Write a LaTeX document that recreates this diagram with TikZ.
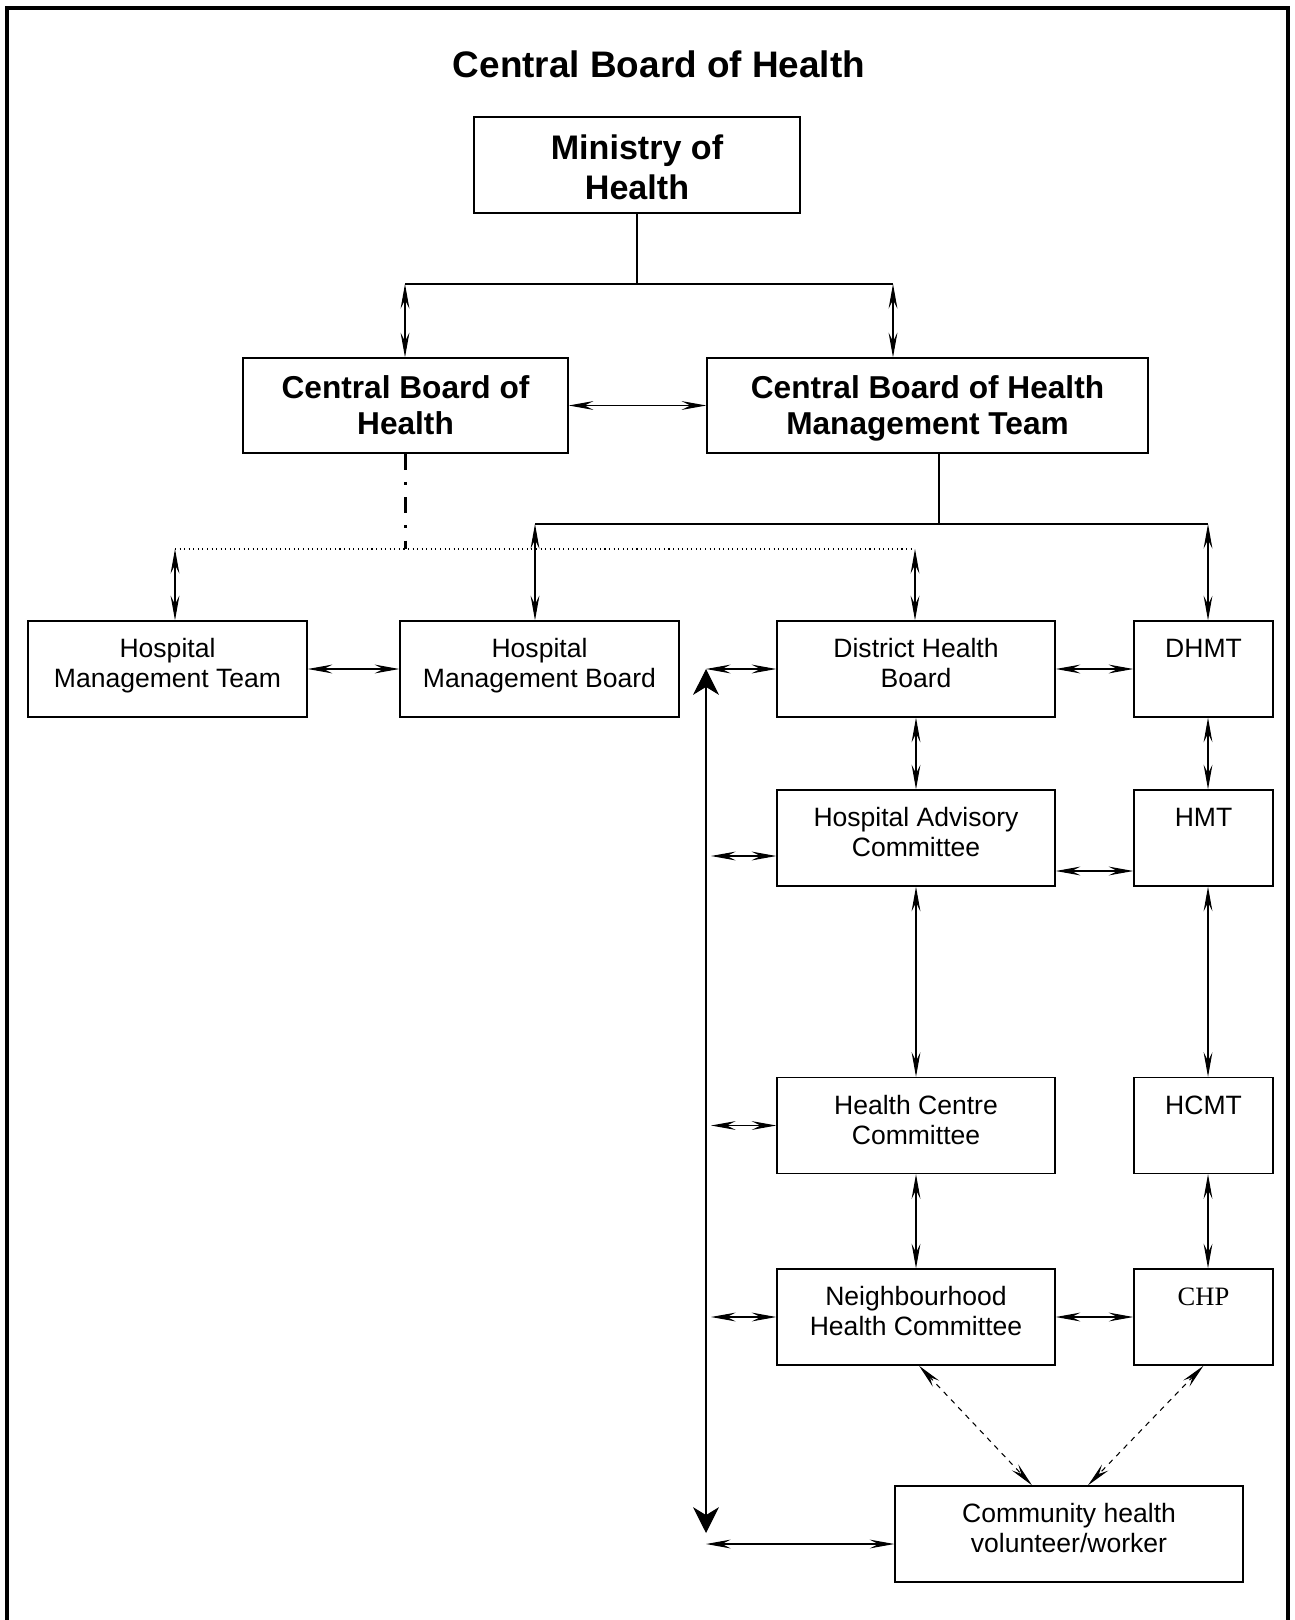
\documentclass[tikz,border=0pt]{standalone}
\usepackage{fontspec}
\setmainfont{Liberation Sans}
\newfontfamily\chpfont{Liberation Serif}
\usetikzlibrary{arrows.meta}

\begin{document}
\begin{tikzpicture}[
  frame/.style={draw, line width=0.8pt, align=center, inner sep=0pt, minimum height=1.92cm},
  box/.style={frame, font=\fontsize{15.1}{17}\selectfont, execute at end node={\rule[-6.7pt]{0pt}{6.7pt}}},
  topbox/.style={frame, font=\fontsize{15.1}{17}\selectfont, text height=20.7pt, text depth=33.7pt, minimum width=2.78cm},
  bigbox/.style={frame, minimum height=1.9cm, font=\bfseries\fontsize{18}{20.5}\selectfont,
    text height=37pt, execute at end node={\rule[-3.8pt]{0pt}{3.8pt}}},
  mohbox/.style={frame, font=\bfseries\fontsize{19.4}{22.9}\selectfont, text height=40pt},
  line/.style={line width=0.8pt},
  link/.style={line width=0.6pt, {Stealth[length=14pt,width=5pt,inset=5pt]}-{Stealth[length=14pt,width=5pt,inset=5pt]}},
  bigarrow/.style={line width=0.6pt, {Stealth[length=14.7pt,width=14.7pt,inset=4.5pt]}-{Stealth[length=14.7pt,width=14.7pt,inset=4.5pt]}},
  dashdot/.style={line width=1.7pt, dash pattern=on 9pt off 7pt on 1.7pt off 7pt}
]
  \useasboundingbox (0,0) rectangle (25.88,-32.4);

  % Frame
  \draw[line width=2.3pt] (0.14,-32.4) -- (0.14,-0.16) -- (25.75,-0.16) -- (25.75,-32.4);

  % Title
  \node[font=\bfseries\fontsize{21}{25}\selectfont] (title) at (13.18,-1.28) {Central Board of Health};

  % Top level
  \node[mohbox, minimum width=6.52cm] (moh) at (12.74,-3.30) {Ministry of\\Health};
  \node[bigbox, minimum width=6.5cm] (cboh) at (8.11,-8.11) {Central Board of\\Health};
  \node[bigbox, minimum width=8.82cm] (cbhmt) at (18.55,-8.11) {Central Board of Health\\Management Team};

  % Branch points
  \coordinate (mohL) at (8.10,-5.68);
  \coordinate (mohR) at (17.86,-5.68);
  \coordinate (cbM) at (18.78,-10.48);
  \coordinate (cbL) at (10.70,-10.48);
  \coordinate (cbR) at (24.16,-10.48);
  \coordinate (dotL) at (3.50,-10.98);
  \coordinate (dotR) at (18.30,-10.98);
  \coordinate (spine) at (14.22,-13.38);
  \coordinate (sideT) at (14.12,-13.38);
  \coordinate (sideB) at (14.12,-30.66);

  % Hospital level
  \node[box, minimum width=5.58cm] (hospteam) at (3.35,-13.38) {Hospital\\Management Team};
  \node[box, minimum width=5.58cm] (hmb) at (10.79,-13.38) {Hospital\\Management Board};

  % District column
  \node[box, minimum width=5.56cm] (dhb) at (18.32,-13.38) {District Health\\Board};
  \node[box, minimum width=5.56cm] (hac) at (18.32,-16.76) {Hospital Advisory\\Committee};
  \node[box, minimum width=5.56cm] (hcc) at (18.32,-22.51) {Health Centre\\Committee};
  \node[box, minimum width=5.56cm] (nhc) at (18.32,-26.34) {Neighbourhood\\Health Committee};

  % Team column
  \node[topbox] (dhmt) at (24.07,-13.38) {DHMT};
  \node[topbox] (hmt) at (24.07,-16.76) {HMT};
  \node[topbox] (hcmt) at (24.07,-22.51) {HCMT};
  \node[topbox, font=\chpfont\fontsize{15.1}{17}\selectfont] (chp) at (24.07,-26.34) {CHP};

  % Community
  \node[box, minimum width=6.96cm] (chw) at (21.38,-30.68) {Community health\\volunteer/worker};

  % Ministry branches
  \draw[line] (moh.south) -- (moh.south |- mohL);
  \draw[line] (mohL) -- (mohR);
  \draw[link] (mohL) -- (mohL |- cboh.north);
  \draw[link] (mohR) -- (mohR |- cbhmt.north);
  \draw[link] (cboh) -- (cbhmt);

  % Management team branches
  \draw[line] (cbM |- cbhmt.south) -- (cbM);
  \draw[line] (cbL) -- (cbR);
  \draw[link] (cbL) -- (cbL |- hmb.north);
  \draw[link] (cbR) -- (cbR |- dhmt.north);

  % Board branches
  \draw[dashdot] (cboh.south) -- (cboh.south |- dotL);
  \draw[line width=0.6pt, dotted] (dotL) -- (dotR);
  \draw[link] (dotL) -- (dotL |- hospteam.north);
  \draw[link] (dotR) -- (dotR |- dhb.north);

  % Horizontal links
  \draw[link] (hospteam) -- (hmb);
  \draw[link] (dhb) -- (dhmt);
  \draw[link] ([yshift=-0.66cm]hac.east) -- ([yshift=-0.66cm]hmt.west);
  \draw[link] (nhc) -- (chp);

  % Vertical links
  \draw[link] (dhb) -- (hac);
  \draw[link] (hac) -- (hcc);
  \draw[link] (hcc) -- (nhc);
  \draw[link] (cbR |- dhmt.south) -- (cbR |- hmt.north);
  \draw[link] (cbR |- hmt.south) -- (cbR |- hcmt.north);
  \draw[link] (cbR |- hcmt.south) -- (cbR |- chp.north);

  % Side spine
  \draw[bigarrow] (sideT) -- (sideB);
  \draw[link] (sideT) -- (dhb.west);
  \draw[link] ([yshift=-0.36cm]spine |- hac.west) -- ([yshift=-0.36cm]hac.west);
  \draw[link] (spine |- hcc.west) -- (hcc.west);
  \draw[link] (spine |- nhc.west) -- (nhc.west);
  \draw[link] ([yshift=-0.2cm]sideB |- chw.west) -- ([yshift=-0.2cm]chw.west);

  % Community links
  \draw[link, dashed] ([xshift=0.06cm]nhc.south) -- ([xshift=-0.74cm]chw.north);
  \draw[link, dashed] (chp.south) -- ([xshift=0.38cm]chw.north);
\end{tikzpicture}
\end{document}
